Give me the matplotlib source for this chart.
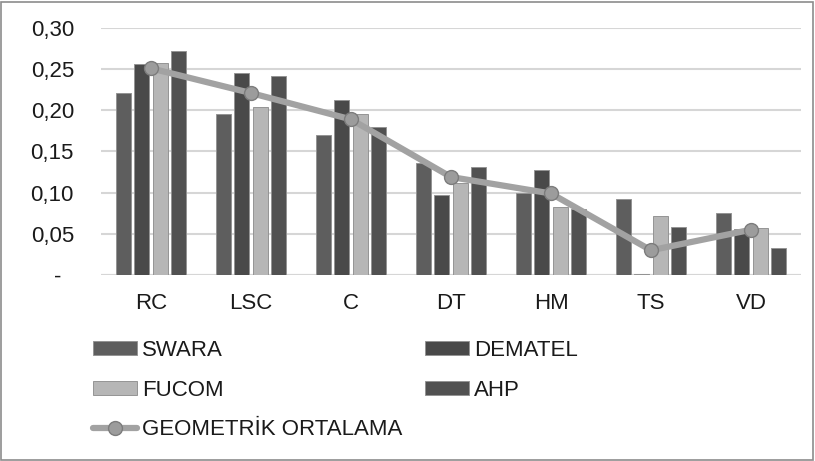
import matplotlib
matplotlib.use("Agg")
import matplotlib.pyplot as plt
import numpy as np
from matplotlib.patches import Rectangle

plt.rcParams['font.family'] = ['Liberation Sans', 'DejaVu Sans']

categories = ["RC", "LSC", "C", "DT", "HM", "TS", "VD"]
swara   = [0.221, 0.195, 0.170, 0.136, 0.100, 0.092, 0.075]
dematel = [0.256, 0.245, 0.212, 0.097, 0.128, 0.001, 0.056]
fucom   = [0.258, 0.204, 0.195, 0.112, 0.083, 0.072, 0.057]
ahp     = [0.272, 0.242, 0.180, 0.131, 0.080, 0.058, 0.033]
geo     = [0.251, 0.221, 0.189, 0.119, 0.099, 0.030, 0.055]
yticks = [0.0, 0.05, 0.10, 0.15, 0.20, 0.25, 0.30]
ytick_labels = ["-  ", "0,05", "0,10", "0,15", "0,20", "0,25", "0,30"]

series = [("SWARA", swara, "#5e5e5e"), ("DEMATEL", dematel, "#494949"),
          ("FUCOM", fucom, "#b6b6b6"), ("AHP", ahp, "#515151")]

FS = 16
fig = plt.figure(figsize=(8.15, 4.61), dpi=100)
ax = fig.add_axes([101/815, 1-275/461, 700/815, 247/461])

x = np.arange(len(categories))
step, width = 0.183, 0.15
handles = {}
for i, (name, vals, col) in enumerate(series):
    b = ax.bar(x + (i-1.5)*step, vals, width, color=col, edgecolor="#949494",
               linewidth=0.7, label=name, zorder=2)
    handles[name] = b

ln, = ax.plot(x, geo, color="#a2a2a2", linewidth=4.5, marker="o", markersize=10,
              markerfacecolor="#9c9c9c", markeredgecolor="#7c7c7c", markeredgewidth=1,
              label="GEOMETRİK ORTALAMA", zorder=3, solid_capstyle="round")
handles["GEOMETRİK ORTALAMA"] = ln

ax.set_xlim(-0.5, len(categories)-0.5)
ax.set_ylim(0, 0.30)
ax.set_yticks(yticks)
ax.set_yticklabels(ytick_labels)
ax.set_xticks(x)
ax.set_xticklabels(categories)
ax.tick_params(axis="both", length=0, labelsize=FS, colors="#1a1a1a")
ax.tick_params(axis="y", pad=19.5)
ax.tick_params(axis="x", pad=13)
ax.yaxis.grid(True, color="#d6d6d6", linewidth=1.5, zorder=0)
ax.set_axisbelow(True)
for s in ax.spines.values():
    s.set_visible(False)
ax.axhline(0, color="#d6d6d6", linewidth=1.5, zorder=1)

common = dict(loc="upper left", frameon=False, fontsize=FS, handlelength=2.0,
              handleheight=0.55, handletextpad=0.22, labelspacing=0.84,
              borderaxespad=0, borderpad=0)
left_keys = ["SWARA", "FUCOM", "GEOMETRİK ORTALAMA"]
right_keys = ["DEMATEL", "AHP"]
leg1 = fig.legend([handles[k] for k in left_keys], left_keys,
                  bbox_to_anchor=(93/815, 1-340/461), **common)
leg2 = fig.legend([handles[k] for k in right_keys], right_keys,
                  bbox_to_anchor=(425/815, 1-340/461), **common)
for lg in (leg1, leg2):
    for t in lg.get_texts():
        t.set_color("#1a1a1a")

fig.patches.append(Rectangle((1/815, 1/461), 812/815, 458/461, transform=fig.transFigure,
                             fill=False, edgecolor="#8c8c8c", linewidth=1.2))

fig.savefig("out.png", dpi=100)
